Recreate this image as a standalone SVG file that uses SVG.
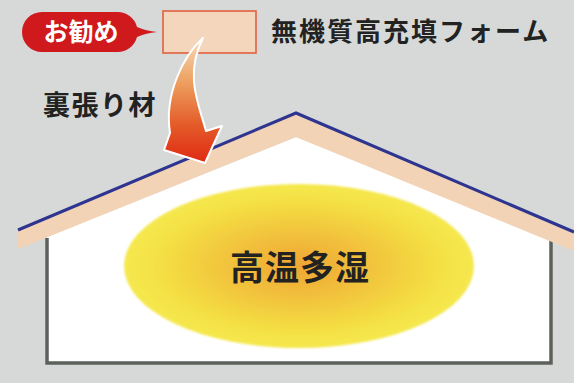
<svg xmlns="http://www.w3.org/2000/svg" width="574" height="383" viewBox="0 0 574 383">
  <defs>
    <style>
      .jp { font-family: "Noto Sans CJK JP", "Noto Sans CJK SC", sans-serif; font-weight: 700; fill: #222; }
      .roofline { fill: none; stroke: #2e3590; stroke-width: 3; stroke-linejoin: miter; }
      .wall { fill: none; stroke: #5c625b; stroke-width: 3.5; }
    </style>
    <linearGradient id="arrowFill" x1="0" y1="0" x2="0" y2="1">
      <stop offset="0" stop-color="#f7dcbc"/>
      <stop offset="0.35" stop-color="#eda060"/>
      <stop offset="0.7" stop-color="#e45a28"/>
      <stop offset="1" stop-color="#df2a14"/>
    </linearGradient>
    <radialGradient id="heat" cx="0.5" cy="0.5" r="0.5">
      <stop offset="0" stop-color="#efa634"/>
      <stop offset="0.4" stop-color="#f2c23c"/>
      <stop offset="0.8" stop-color="#f4e044"/>
      <stop offset="1" stop-color="#f5e84e"/>
    </radialGradient>
    <filter id="soft" x="-5%" y="-5%" width="110%" height="110%">
      <feGaussianBlur stdDeviation="1.2"/>
    </filter>
  </defs>

  <!-- page background -->
  <rect width="574" height="383" fill="#d6d9d7"/>

  <!-- house section -->
  <g id="house">
    <!-- interior -->
    <polygon points="47,237 296,137 551,239 551,363 47,363" fill="#ffffff"/>
    <!-- walls -->
    <polyline class="wall" points="47,238 47,363 551,363 551,240"/>
    <!-- roof lining band -->
    <polygon points="18,230 296,113 574,232 574,251 296,137 18,249" fill="#f2d3b6"/>
    <polyline class="roofline" points="18,230 296,113 574,232"/>
  </g>

  <!-- warm, humid air mass -->
  <g id="humid-air">
    <ellipse cx="299" cy="266" rx="175" ry="82" fill="url(#heat)" filter="url(#soft)"/>
    <text class="jp" x="300" y="280" font-size="34" text-anchor="middle" letter-spacing="1">高温多湿</text>
  </g>

  <!-- recommendation badge -->
  <g id="badge">
    <path d="M42,12 H117 A20,20 0 0 1 137,27 Q146,31 157,32 Q146,33 137,37 A20,20 0 0 1 117,52 H42 A20,20 0 0 1 42,12 Z" fill="#d0191d"/>
    <text x="81" y="41" font-size="25" text-anchor="middle" font-family="Noto Sans CJK JP, Noto Sans CJK SC, sans-serif" font-weight="700" fill="#ffffff">お勧め</text>
  </g>

  <!-- legend swatch -->
  <g id="legend">
    <rect x="163" y="11" width="93" height="42" fill="#f4d6bc" stroke="#e2603f" stroke-width="1.6"/>
    <text class="jp" x="271" y="41" font-size="26" letter-spacing="2">無機質高充填フォーム</text>
  </g>

  <!-- lining label -->
  <g id="lining-label">
    <text class="jp" x="43" y="115" font-size="27" letter-spacing="1.5">裏張り材</text>
  </g>

  <!-- connectors -->
  <g id="connectors">
    <path d="M203,38 C183,56 164,95 170,133 L164,150 L205,163 L222,126 L206,131 C199,105 184,75 203,38 Z"
          fill="url(#arrowFill)" stroke="#ffffff" stroke-width="2" stroke-linejoin="round"/>
  </g>
</svg>
